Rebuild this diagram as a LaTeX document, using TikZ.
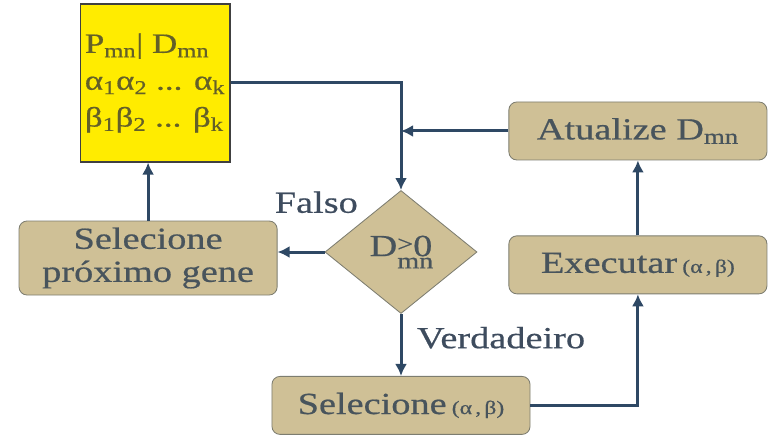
\documentclass[tikz,border=0pt]{standalone}
\usepackage{fontspec}
\setmainfont[FakeStretch=1.25, FakeBold=0.6]{Liberation Serif}
\usetikzlibrary{positioning, shapes.geometric, arrows.meta}
\definecolor{tanfill}{RGB}{207,192,150}
\definecolor{boxline}{RGB}{125,125,112}
\definecolor{genfill}{RGB}{255,236,0}
\definecolor{gentxt}{RGB}{100,96,40}
\definecolor{txt}{RGB}{72,84,92}
\definecolor{lbltxt}{RGB}{62,76,94}
\definecolor{arrowc}{RGB}{46,72,100}
\newcommand\alfbeta{{\fontsize{13.5}{14}\selectfont(α\,,\,β)}}

\begin{document}
\begin{tikzpicture}[x=0.025cm, y=-0.025cm,
	box/.style={draw=boxline, fill=tanfill, rounded corners=0.2cm, minimum width=6.45cm, minimum height=1.45cm, text=txt, align=center, line width=0.6pt, font=\fontsize{21.8}{23.5}\selectfont},
	cond/.style={diamond, draw=boxline, fill=tanfill, minimum width=3.8cm, minimum height=3.075cm, inner sep=0pt, line width=0.6pt, text=txt, font=\fontsize{21.8}{23.5}\selectfont},
	gene/.style={draw=black!75, fill=genfill, minimum width=3.7cm, minimum height=3.95cm, align=left, line width=0.8pt, text=gentxt, font=\fontsize{19.9}{26.2}\selectfont},
	lbl/.style={text=lbltxt, font=\fontsize{21.8}{23.5}\selectfont},
	arr/.style={-{Latex[length=0.3cm, width=0.3cm]}, line width=0.075cm, draw=arrowc}]
	\useasboundingbox (0,0) rectangle (768,437);
	\node[cond] (diam) at (401,252) {D\rlap{\raisebox{-.4em}{\fontsize{16}{16}\selectfont mn}}\raisebox{.15em}{\fontsize{16}{16}\selectfont >}0};
	\node[box, below=1.55cm of diam] (sel) {Selecione\,\alfbeta};
	\node[box, left=1.175cm of diam, yshift=-0.15cm, minimum height=1.85cm] (prox) {Selecione\\próximo gene};
	\node[gene, above=1.45cm of prox, xshift=0.175cm] (gen) {P\textsubscript{mn}| D\textsubscript{mn}\\α\textsubscript{1}α\textsubscript{2} ... α\textsubscript{k}\\β\textsubscript{1}β\textsubscript{2} ... β\textsubscript{k}};
	\node[box, right=0.775cm of diam, yshift=3.025cm] (upd) {Atualize D\textsubscript{mn}};
	\node[box, below=1.875cm of upd] (exe) {Executar\,\alfbeta};
	\node[lbl, above left=0.075cm and 0cm of diam.north west] (falso) {Falso};
	\node[lbl, below right=0.2cm and 0.275cm of diam.south] (verd) {Verdadeiro};
	\draw[arr] (gen) -| (diam);
	\draw[arr] (upd) -- (upd -| diam);
	\draw[arr] (diam) -- (diam -| prox.east);
	\draw[arr] (prox) -- (prox |- gen.south);
	\draw[arr] (diam) -- (sel);
	\draw[arr] (sel) -| (exe);
	\draw[arr] (exe) -- (upd);
\end{tikzpicture}
\end{document}
